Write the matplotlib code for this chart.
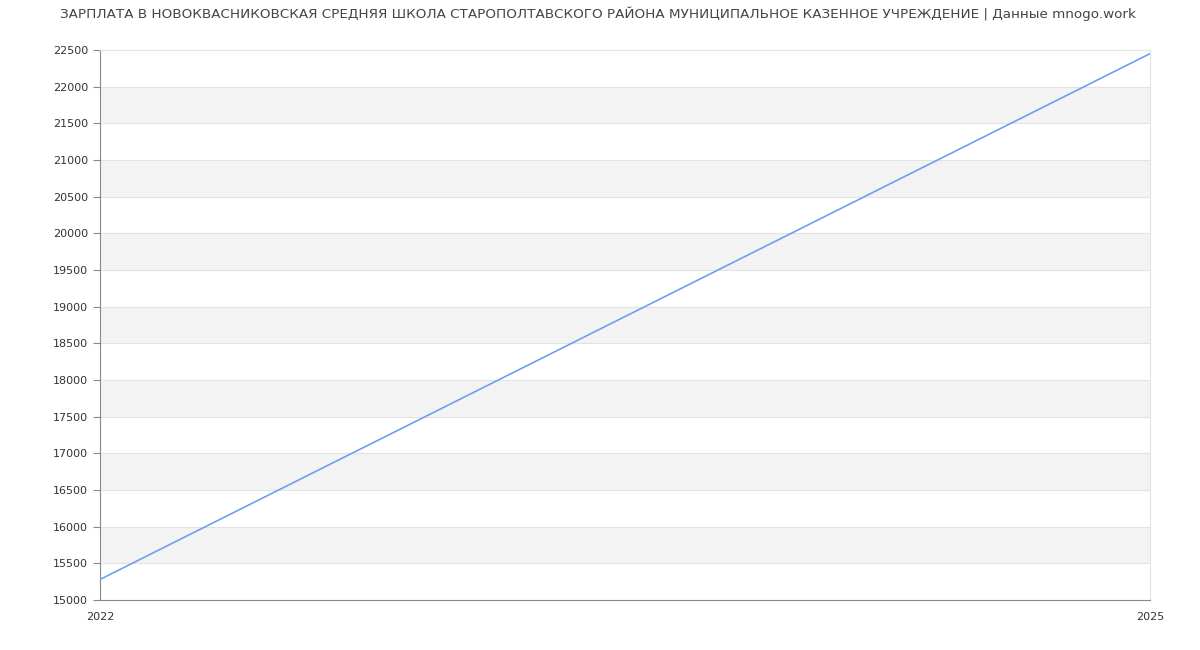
import matplotlib.pyplot as plt

years = [2022, 2025]
salary = [15280, 22450]
y_ticks = list(range(15000, 22501, 500))
title = ("ЗАРПЛАТА В НОВОКВАСНИКОВСКАЯ СРЕДНЯЯ ШКОЛА СТАРОПОЛТАВСКОГО РАЙОНА "
         "МУНИЦИПАЛЬНОЕ КАЗЕННОЕ УЧРЕЖДЕНИЕ | Данные mnogo.work")

plt.rcParams['font.family'] = ['DejaVu Sans']
fig = plt.figure(figsize=(12, 6.5), dpi=100)
ax = fig.add_axes([100/1200, 50/650, 1050/1200, 550/650])

# alternating bands
for lo in range(15500, 22000, 1000):
    ax.axhspan(lo, lo + 500, color='#f3f3f3', zorder=0, lw=0)
for t in y_ticks[1:]:
    ax.axhline(t, color='#e3e3e3', lw=0.8, zorder=1)

ax.plot(years, salary, color='#6f9ef2', lw=1.2, zorder=3)

ax.set_xlim(2022, 2025)
ax.set_ylim(15000, 22500)
ax.set_yticks(y_ticks)
ax.set_xticks(years)
ax.tick_params(axis='y', labelsize=8, colors='#333333', length=5, color='#888888')
ax.tick_params(axis='x', labelsize=8, colors='#333333', length=0, pad=9)
for lab in ax.get_xticklabels():
    lab.set_horizontalalignment('center')

ax.spines['left'].set_color('#888888')
ax.spines['bottom'].set_color('#888888')
ax.spines['top'].set_color('#e3e3e3')
ax.spines['right'].set_color('#e3e3e3')

fig.text(0.4985, 1 - 14/650, title, ha='center', va='center', fontsize=9.7, color='#444444')

fig.savefig('out.png', dpi=100)
